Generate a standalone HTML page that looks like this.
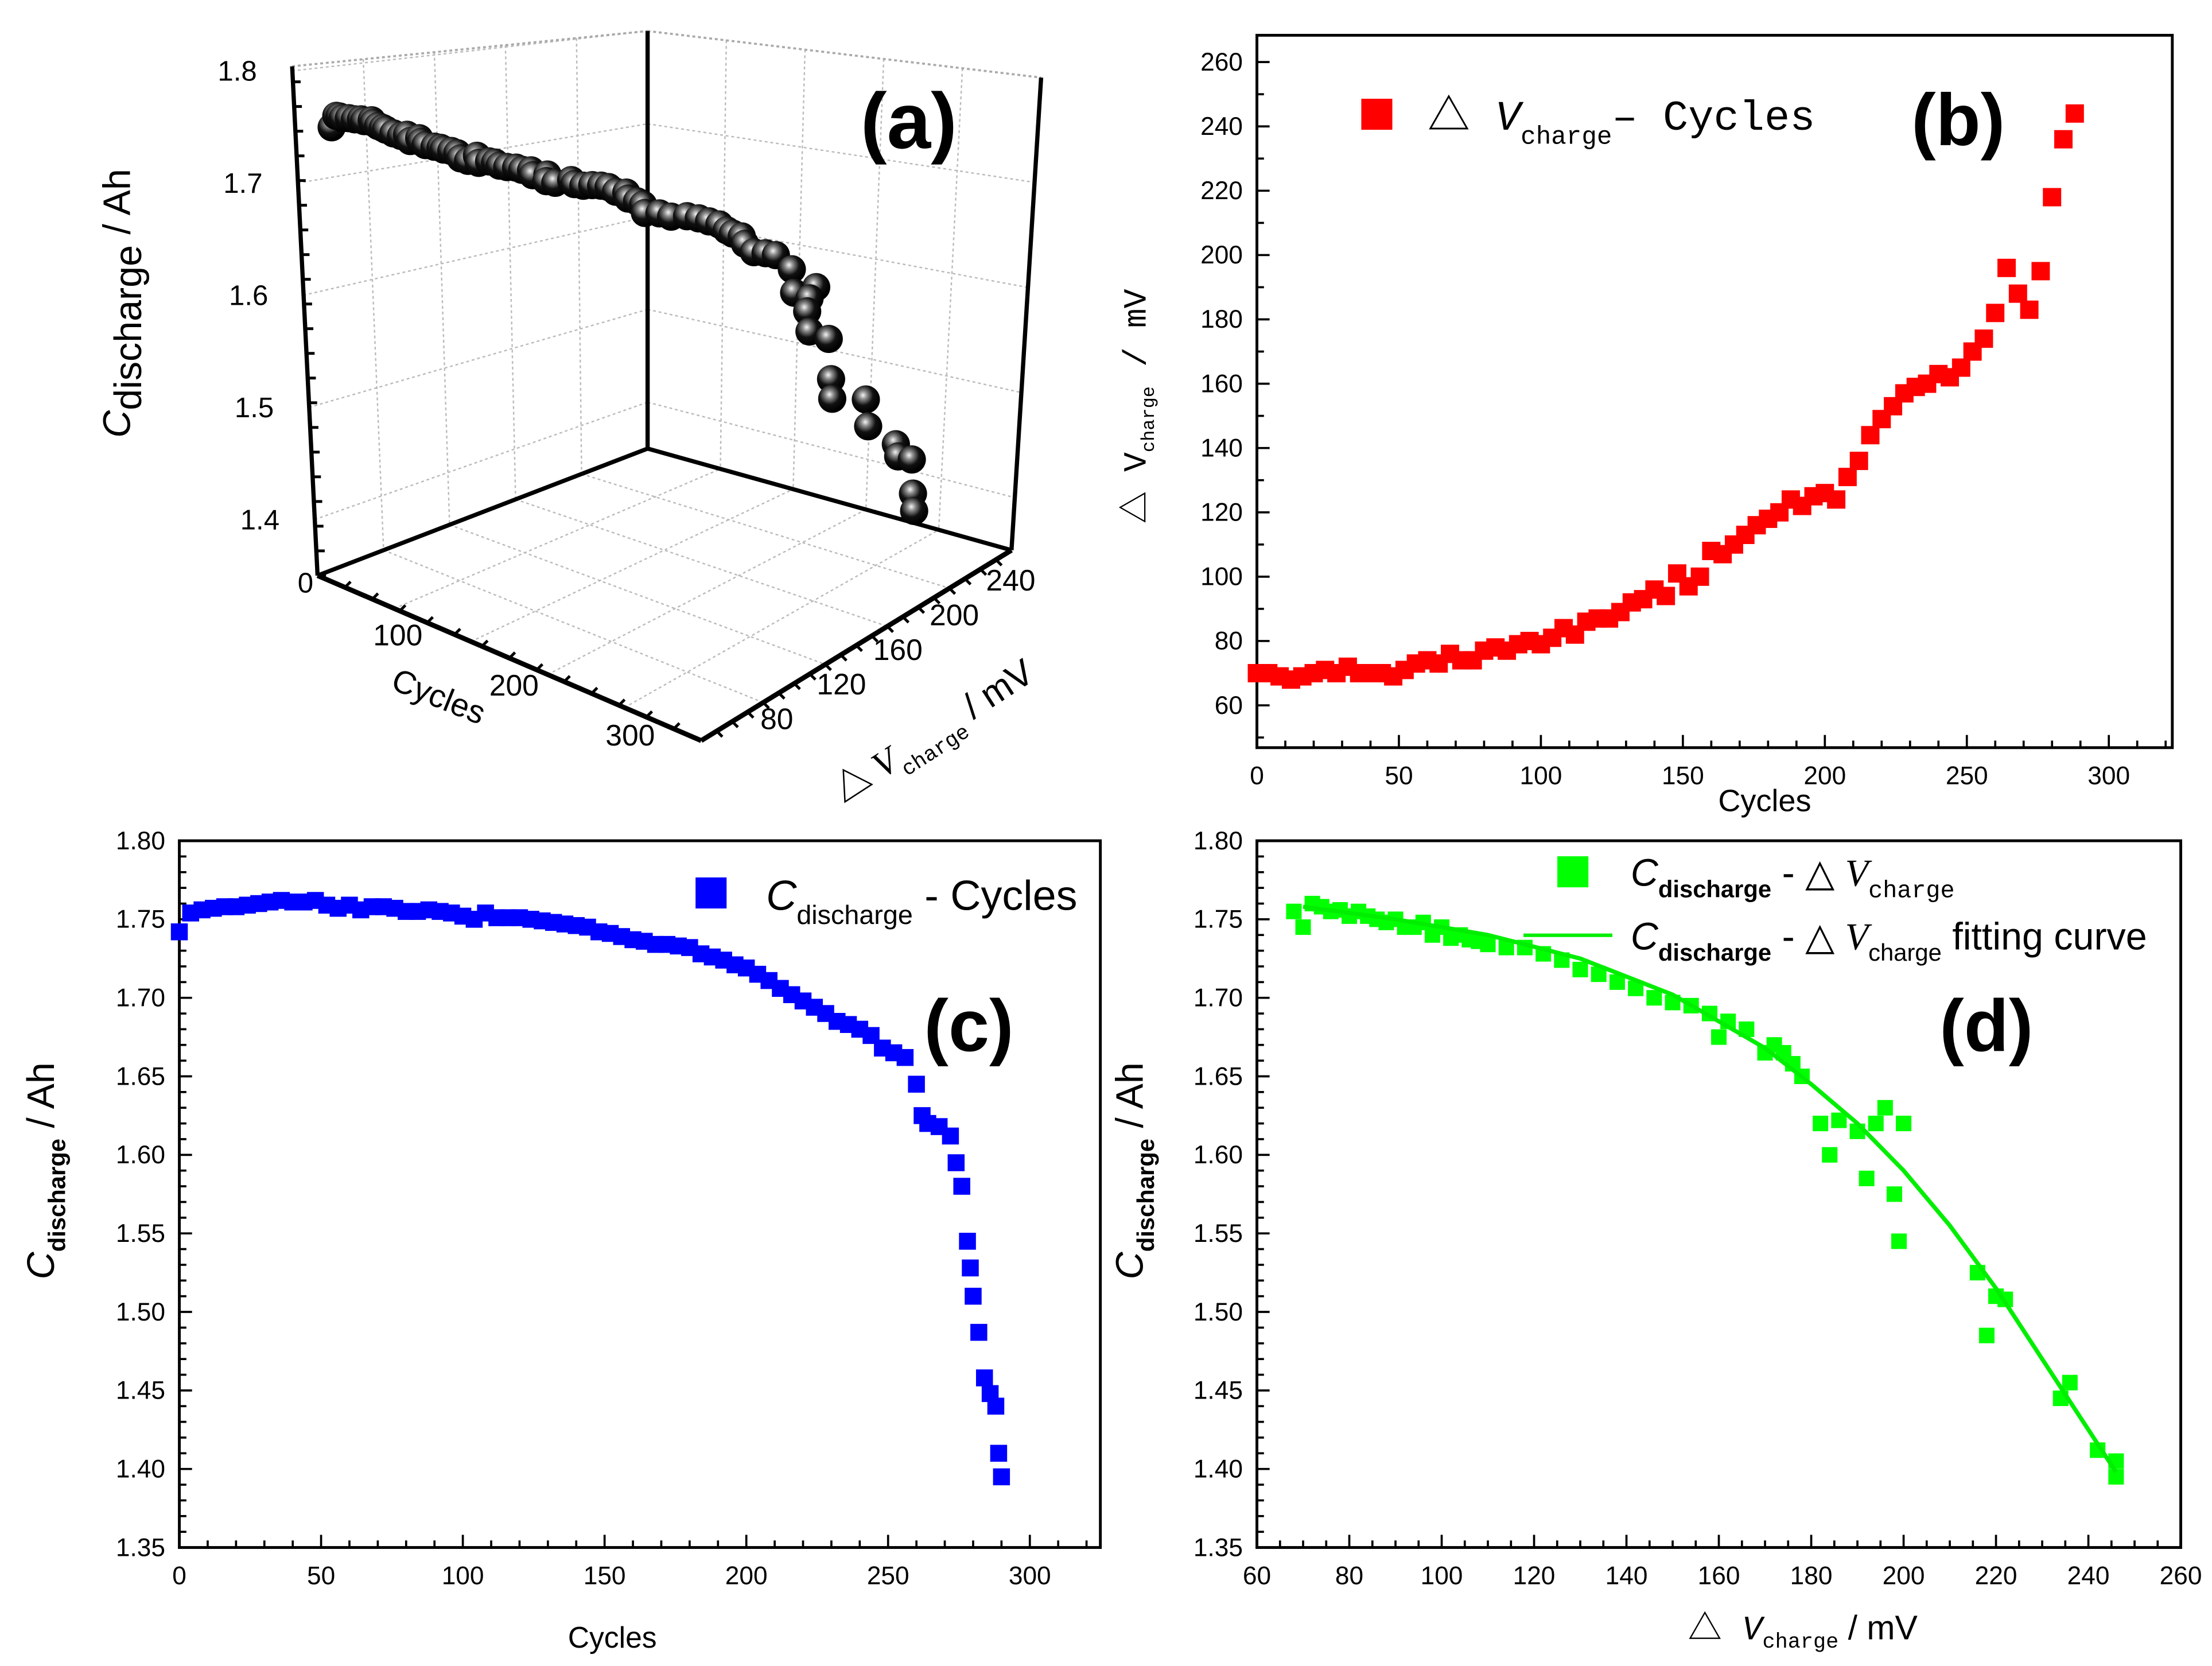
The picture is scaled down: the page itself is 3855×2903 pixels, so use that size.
<!DOCTYPE html>
<html><head><meta charset="utf-8">
<style>
html,body{margin:0;padding:0;background:#fff;}
svg{display:block;}
text{font-family:"Liberation Sans",Arial,sans-serif;}
.serif{font-family:"Liberation Serif","Noto Serif CJK SC",serif;}
.mono{font-family:"Liberation Mono","Noto Serif CJK SC",monospace;}
</style></head>
<body>
<svg id="fig" xmlns="http://www.w3.org/2000/svg" width="3855" height="2903" viewBox="0 0 1568 1181">
<defs>
<radialGradient id="sph" cx="0.4" cy="0.35" r="0.6">
<stop offset="0" stop-color="#f4f4f4"/><stop offset="0.25" stop-color="#888"/><stop offset="0.6" stop-color="#111"/><stop offset="1" stop-color="#000"/>
</radialGradient>
</defs>
<g id="pa"></g>
<g id="pb"></g>
<g id="pc"></g>
<g id="pd"></g>
</svg>
<script>
// ---------- data ----------
const cyclesB = [0,4,8,12,16,20,24,28,32,36,40,44,48,52,56,60,64,68,72,76,80,84,88,92,96,100,104,108,112,116,120,124,128,132,136,140,144,148,152,156,160,164,168,172,176,180,184,188,192,196,200,204,208,212,216,220,224,228,232,236,240,244,248,252,256,260,264,268,272,276,280,284,288];
const dVcharge = [70,70,69,68,69,70,71,70,72,70,70,70,69,71,73,74,73,76,74,74,77,78,77,79,80,79,81,84,82,86,87,87,89,92,93,96,94,101,97,100,108,107,110,113,116,118,120,124,122,125,126,124,131,136,144,149,153,157,159,160,163,162,165,170,174,182,196,188,183,195,218,236,244];
const cyclesC = [0,4,8,12,16,20,24,28,32,36,40,44,48,52,56,60,64,68,72,76,80,84,88,92,96,100,104,108,112,116,120,124,128,132,136,140,144,148,152,156,160,164,168,172,176,180,184,188,192,196,200,204,208,212,216,220,224,228,232,236,240,244,248,252,256,260,262,264,268,272,274,276,278,279,280,282,284,286,288,289,290];
const capC = [1.742,1.754,1.756,1.757,1.758,1.758,1.759,1.760,1.761,1.762,1.761,1.761,1.762,1.759,1.757,1.759,1.756,1.758,1.758,1.757,1.755,1.755,1.756,1.755,1.754,1.752,1.750,1.754,1.751,1.751,1.751,1.750,1.749,1.748,1.747,1.746,1.745,1.742,1.741,1.739,1.737,1.736,1.734,1.734,1.733,1.732,1.728,1.726,1.724,1.721,1.719,1.715,1.711,1.706,1.702,1.698,1.694,1.690,1.685,1.683,1.680,1.676,1.668,1.665,1.662,1.645,1.625,1.620,1.618,1.612,1.595,1.580,1.545,1.528,1.510,1.487,1.458,1.448,1.440,1.410,1.395];
const dVD = [68,70,72,74,76,78,80,82,84,86,88,90,92,94,96,98,100,102,104,106,108,110,114,118,122,126,130,134,138,142,146,150,154,158,160,162,166,170,172,174,176,178,182,184,186,190,192,194,196,198,199,200,216,218,220,222,234,236,242,246,246];
const capD = [1.755,1.745,1.760,1.758,1.755,1.756,1.752,1.755,1.752,1.750,1.748,1.750,1.745,1.745,1.748,1.740,1.745,1.738,1.740,1.737,1.736,1.734,1.732,1.732,1.728,1.724,1.718,1.715,1.710,1.706,1.700,1.697,1.695,1.690,1.675,1.685,1.680,1.665,1.670,1.665,1.658,1.650,1.620,1.600,1.622,1.615,1.585,1.620,1.630,1.575,1.545,1.620,1.525,1.485,1.510,1.508,1.445,1.455,1.412,1.395,1.405];
const fitX = [70,90,110,130,150,170,180,190,200,210,220,230,240,246];
const fitY = [1.758,1.750,1.740,1.725,1.702,1.668,1.645,1.620,1.590,1.555,1.515,1.470,1.425,1.398];
const ticksB_y = [60,80,100,120,140,160,180,200,220,240,260];
const ticksCyc = [0,50,100,150,200,250,300];
const ticksCap = ["1.35","1.40","1.45","1.50","1.55","1.60","1.65","1.70","1.75","1.80"];
const ticksD_x = [60,80,100,120,140,160,180,200,220,240,260];
const ticksA_cap = [1.4,1.5,1.6,1.7,1.8];
const ticksA_cyc = [100,200,300];
const ticksA_dv = [80,120,160,200,240];

const NS="http://www.w3.org/2000/svg";
function mk(parent,tag,attrs,txt){const e=document.createElementNS(NS,tag);for(const k in attrs)e.setAttribute(k,attrs[k]);if(txt!==undefined)e.textContent=txt;parent.appendChild(e);return e;}
function ln(g,x1,y1,x2,y2,sw,col,dash){const e=mk(g,'line',{x1:x1,y1:y1,x2:x2,y2:y2,stroke:col||'#000','stroke-width':sw||1.5});if(dash)e.setAttribute('stroke-dasharray',dash);return e;}

function axes2D(g,X,Y,box,xt,xmin,xmax,xminor,yt,ymin,ymax,yminor){
  const fr=mk(g,'rect',{x:box[0],y:box[1],width:box[2]-box[0],height:box[3]-box[1],fill:'none',stroke:'#000','stroke-width':2});
  
  
  for(let v=xmin;v<=xmax+1e-9;v+=xminor){const x=X(v);const major=xt.some(t=>Math.abs(+t-v)<1e-6);ln(g,x,box[3],x,box[3]-(major?9:5),1.5);}
  for(let v=ymin;v<=ymax+1e-9;v+=yminor){const y=Y(v);const major=yt.some(t=>Math.abs(+t-v)<1e-6);ln(g,box[0],y,box[0]+(major?9:5),y,1.5);}
  xt.forEach(t=>{const e=mk(g,'text',{x:X(+t),y:box[3]+26,'font-size':18,'text-anchor':'middle'},String(t));
    
    });
  yt.forEach(t=>{const e=mk(g,'text',{x:box[0]-10,y:Y(+t)+6,'font-size':18,'text-anchor':'end'},String(t));
    
    });
}

// ---------- Panel B ----------
(function(){
  const g=document.getElementById('pb');
  const X=v=>891+v*(1495-891)/300, Y=v=>500-(v-60)*(456/200);
  axes2D(g,X,Y,[891,25,1540,530],ticksCyc,0,320,10,ticksB_y,50,265,10);
  cyclesB.forEach((c,i)=>{const r=mk(g,'rect',{x:X(c)-6.5,y:Y(dVcharge[i])-6.5,width:13,height:13,fill:'#ff0000'});
    
    });
  const xl=mk(g,'text',{x:1251,y:575,'font-size':22,'text-anchor':'middle'},'Cycles');
  
  const yl=mk(g,'text',{transform:'translate(812,288) rotate(-90)','font-size':23,'text-anchor':'middle',class:'mono'});
  
  mk(yl,'tspan',{},'△ V');mk(yl,'tspan',{'font-size':13,dy:6},'charge');mk(yl,'tspan',{dy:-6},' / mV');
  const lg=mk(g,'g',{});
  mk(lg,'rect',{x:965,y:70,width:22,height:22,fill:'#ff0000'});
  const lt=mk(lg,'text',{x:1012,y:92,'font-size':30,class:'mono'});
  mk(lt,'tspan',{},'△ ');mk(lt,'tspan',{'font-style':'italic'},'V');mk(lt,'tspan',{'font-size':18,dy:10},'charge');mk(lt,'tspan',{dy:-10},'– Cycles');
  const pl=mk(g,'text',{x:1355,y:103,'font-size':52,'font-weight':'bold'},'(b)');
  
})();

// ---------- Panel C ----------
(function(){
  const g=document.getElementById('pc');
  const X=v=>127+v*(730-127)/300, Y=v=>1097-(v-1.35)*(501/0.45);
  axes2D(g,X,Y,[127,596,780,1097],ticksCyc,0,320,10,ticksCap,1.35,1.80,0.01);
  cyclesC.forEach((c,i)=>{const r=mk(g,'rect',{x:X(c)-6,y:Y(capC[i])-6,width:12,height:12,fill:'#0000ff'});
    
    });
  const xl=mk(g,'text',{x:434,y:1168,'font-size':21,'text-anchor':'middle'},'Cycles');
  
  const yl=mk(g,'text',{transform:'translate(38,830) rotate(-90)','font-size':27,'text-anchor':'middle'});
  
  mk(yl,'tspan',{'font-style':'italic'},'C');mk(yl,'tspan',{'font-size':17,dy:8,'font-weight':'bold'},'discharge');mk(yl,'tspan',{dy:-8},'  / Ah');
  const lg=mk(g,'g',{});
  mk(lg,'rect',{x:493,y:622,width:22,height:22,fill:'#0000ff'});
  const lt=mk(lg,'text',{x:543,y:645,'font-size':30});
  mk(lt,'tspan',{'font-style':'italic'},'C');mk(lt,'tspan',{'font-size':19,dy:10},'discharge');mk(lt,'tspan',{dy:-10},' -  Cycles');
  const pl=mk(g,'text',{x:655,y:745,'font-size':52,'font-weight':'bold'},'(c)');
  
})();

// ---------- Panel D ----------
(function(){
  const g=document.getElementById('pd');
  const X=v=>891+(v-60)*(655/200), Y=v=>1097-(v-1.35)*(501/0.45);
  axes2D(g,X,Y,[891,596,1546,1097],ticksD_x,60,260,5,ticksCap,1.35,1.80,0.01);
  dVD.forEach((d,i)=>{const r=mk(g,'rect',{x:X(d)-5.5,y:Y(capD[i])-5.5,width:11,height:11,fill:'#00ff00'});
    
    });
  const pts=fitX.map((x,i)=>X(x)+','+Y(fitY[i])).join(' ');
  const fl=mk(g,'polyline',{points:pts,fill:'none',stroke:'#00ee00','stroke-width':3});
  
  const xl=mk(g,'text',{x:1278,y:1162,'font-size':24,'text-anchor':'middle',class:'mono'});
  
  mk(xl,'tspan',{},'△ ');mk(xl,'tspan',{'font-style':'italic'},'V');mk(xl,'tspan',{'font-size':15,dy:6},'charge');mk(xl,'tspan',{dy:-6,'font-family':'Liberation Sans'},' / mV');
  const yl=mk(g,'text',{transform:'translate(810,830) rotate(-90)','font-size':27,'text-anchor':'middle'});
  
  mk(yl,'tspan',{'font-style':'italic'},'C');mk(yl,'tspan',{'font-size':17,dy:8,'font-weight':'bold'},'discharge');mk(yl,'tspan',{dy:-8},'  / Ah');
  const lg=mk(g,'g',{});
  mk(lg,'rect',{x:1104,y:607,width:22,height:22,fill:'#00ff00'});
  const l1=mk(lg,'text',{x:1156,y:628,'font-size':27});
  mk(l1,'tspan',{'font-style':'italic'},'C');mk(l1,'tspan',{'font-size':17,dy:8,'font-weight':'bold'},'discharge');mk(l1,'tspan',{dy:-8},' - △  ');mk(l1,'tspan',{'font-style':'italic',class:'serif'},'V');mk(l1,'tspan',{'font-size':17,dy:8,class:'mono'},'charge');
  ln(lg,1080,663,1143,663,2.5,'#00ee00');
  const l2=mk(lg,'text',{x:1156,y:673,'font-size':27});
  mk(l2,'tspan',{'font-style':'italic'},'C');mk(l2,'tspan',{'font-size':17,dy:8,'font-weight':'bold'},'discharge');mk(l2,'tspan',{dy:-8},' - △  ');mk(l2,'tspan',{'font-style':'italic',class:'serif'},'V');mk(l2,'tspan',{'font-size':17,dy:8},'charge');mk(l2,'tspan',{dy:-8},'  fitting curve');
  const pl=mk(g,'text',{x:1375,y:745,'font-size':52,'font-weight':'bold'},'(d)');
  
})();

// ---------- Panel A (3D) ----------
(function(){
  const g=document.getElementById('pa');
  const P=(c,dv,cap)=>[225+c*0.824+(dv-60)*1.0, 408+c*0.355-(dv-60)*0.614-(cap-1.35)*795];
  const gr=mk(g,'g',{});
  
  [0.2,0.4,0.6,0.8].forEach(f=>{
    ln(gr,207+(459-207)*f,47+(22-47)*f,225+(459-225)*f,408+(318-408)*f,1,'#bbb','2,2');
    ln(gr,459+(738-459)*f,22+(55-22)*f,459+(717-459)*f,318+(390-318)*f,1,'#bbb','2,2');
    ln(gr,225+(497-225)*f,408+(525-408)*f,459+(717-459)*f,318+(390-318)*f,1,'#bbb','2,2');
    ln(gr,225+(459-225)*f,408+(318-408)*f,497+(717-497)*f,525+(390-525)*f,1,'#bbb','2,2');
  });
  ticksA_cap.forEach(v=>{const yl=408-(v-1.35)*795;const yr=318-(v-1.35)*(296/0.45);
    ln(gr,225-(v-1.35)*40,yl,459,yr,1,'#bbb','2,2');
    ln(gr,459,yr,717+(v-1.35)*46,390-(v-1.35)*745,1,'#bbb','2,2');});
  ln(g,207,47,459,22,1.5,'#aaa','2,2');ln(g,459,22,738,55,1.5,'#aaa','2,2');
  ln(g,207,47,225,408,3);ln(g,459,22,459,318,3);ln(g,738,55,717,390,3);
  ln(g,225,408,459,318,3);ln(g,459,318,717,390,3);ln(g,225,408,497,525,3.5);ln(g,497,525,717,390,3.5);
  for(let i=0;i<=20;i++){const y=408-i*17.5;ln(g,225-i*0.9,y,231-i*0.9,y,2);}
  for(let i=1;i<14;i++){const f=i/14;ln(g,225+272*f,408+117*f,225+272*f+4,408+117*f-4,2);}
  for(let i=1;i<20;i++){const f=i/20;ln(g,497+220*f,525-135*f,497+220*f+4,525-135*f+4,2);}
  ticksA_cap.forEach(v=>{const e=mk(g,'text',{x:200-(v-1.35)*40,y:408-(v-1.35)*795+7,'font-size':20,'text-anchor':'end'},v.toFixed(1));
    });
  const z0=mk(g,'text',{x:222,y:420,'font-size':20,'text-anchor':'end'},'0');
  
  ticksA_cyc.forEach(v=>{const p=P(v,60,1.35);const e=mk(g,'text',{x:p[0]-8,y:p[1]+14,'font-size':21,'text-anchor':'end'},String(v));
    });
  ticksA_dv.forEach(v=>{const p=P(330,v,1.35);const e=mk(g,'text',{x:p[0]+22,y:p[1]+4,'font-size':21,'text-anchor':'start'},String(v));
    });
  const ct=mk(g,'text',{transform:'translate(276,488) rotate(22)','font-size':23},'Cycles');
  
  const dt=mk(g,'text',{transform:'translate(598,570) rotate(-33)','font-size':26,class:'serif'});
  
  mk(dt,'tspan',{},'△  ');mk(dt,'tspan',{'font-style':'italic'},'V');mk(dt,'tspan',{'font-size':15,dy:8,class:'mono'},'charge');mk(dt,'tspan',{dy:-8,'font-family':'Liberation Sans'},'  / mV');
  const zt=mk(g,'text',{transform:'translate(92,215) rotate(-90)','font-size':27,'text-anchor':'middle'});
  
  mk(zt,'tspan',{'font-style':'italic'},'C');mk(zt,'tspan',{dy:8},'discharge');mk(zt,'tspan',{dy:-8},'   / Ah');
  cyclesC.forEach((c,j)=>{
    let i=0;for(let k=0;k<cyclesB.length;k++){if(cyclesB[k]<=c)i=k;}
    const p=P(c,dVcharge[i],capC[j]);
    const s=mk(g,'circle',{cx:p[0],cy:p[1],r:10,fill:'url(#sph)'});
    
    });
  const pl=mk(g,'text',{x:610,y:105,'font-size':56,'font-weight':'bold'},'(a)');
  
})();
</script>
</body></html>
